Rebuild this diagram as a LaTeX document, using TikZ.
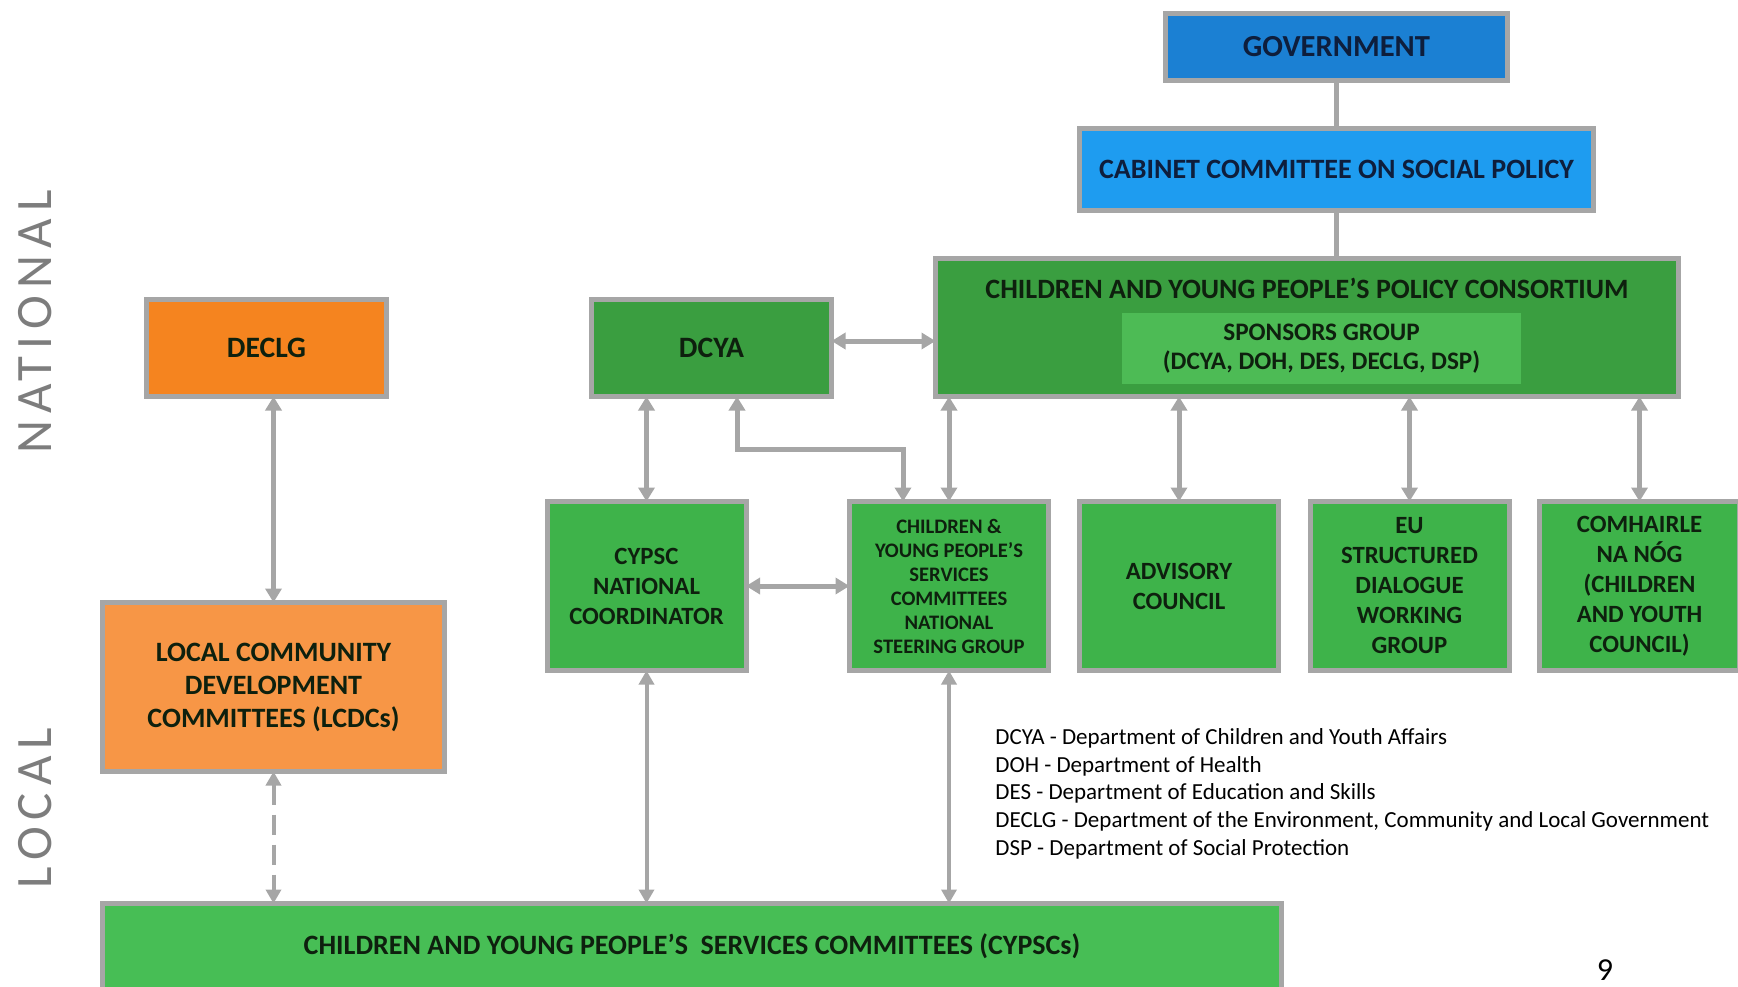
\documentclass[tikz,border=0pt]{standalone}
\usepackage{fontspec}
\setmainfont{Carlito}
\usetikzlibrary{arrows.meta,calc}
\definecolor{govblue}{RGB}{27,128,211}
\definecolor{cabblue}{RGB}{30,156,240}
\definecolor{darkgreen}{RGB}{58,158,64}
\definecolor{midgreen}{RGB}{62,179,74}
\definecolor{lightgreen}{RGB}{77,187,85}
\definecolor{botgreen}{RGB}{71,190,85}
\definecolor{orangeA}{RGB}{245,132,31}
\definecolor{orangeB}{RGB}{247,150,70}
\definecolor{bordergrey}{RGB}{166,166,166}
\definecolor{arrowgrey}{RGB}{166,166,166}
\definecolor{labelgrey}{RGB}{125,125,125}
\definecolor{textdark}{RGB}{14,32,14}
\definecolor{govtext}{RGB}{14,30,60}
\begin{document}
\begin{tikzpicture}[x=0.5pt,y=-0.5pt,
  orgbox/.style={draw=bordergrey, line width=2.5pt, inner sep=0pt, outer sep=0pt, align=center, text=textdark},
  bigfont/.style={font=\bfseries\fontsize{14}{16.5}\selectfont},
  midfont/.style={font=\bfseries\fontsize{12.4}{15}\selectfont},
  smallbox/.style={orgbox, fill=midgreen, minimum width=99.5pt, minimum height=84.5pt, midfont},
  conn/.style={draw=arrowgrey, line width=2.5pt},
  arr/.style={draw=arrowgrey, line width=2.5pt, {Triangle[width=8pt,length=7pt]}-{Triangle[width=8pt,length=7pt]}},
  arrthin/.style={draw=arrowgrey, line width=2pt, {Triangle[width=7.5pt,length=7pt]}-{Triangle[width=7.5pt,length=7pt]}},
  sidelabel/.style={rotate=90, text=labelgrey, font=\fontsize{25.5}{30}\selectfont\addfontfeatures{LetterSpace=14}}
]
\useasboundingbox (0,0) rectangle (1738,986);

% top hierarchy
\node[orgbox, fill=govblue, text=govtext, minimum width=171pt, minimum height=33.5pt,
      font=\bfseries\fontsize{15.3}{18}\selectfont] (gov) at (1336.5,47) {GOVERNMENT};
\node[orgbox, fill=cabblue, text=govtext, minimum width=257pt, minimum height=41pt, bigfont] (cab) at (1336.5,169.5) {CABINET COMMITTEE ON SOCIAL POLICY};
\node[orgbox, fill=darkgreen, minimum width=371.5pt, minimum height=69pt] (cons) at (1307,327.5) {};
\node[text=textdark, bigfont, inner sep=0pt] (constitle) at (1307,288) {CHILDREN AND YOUNG PEOPLE’S POLICY CONSORTIUM};
\node[fill=lightgreen, inner sep=0pt, minimum width=199.5pt, minimum height=35.5pt, align=center, text=textdark,
      font=\bfseries\fontsize{12.6}{14.5}\selectfont] (spons) at (1321.5,348.5) {SPONSORS GROUP\\(DCYA, DOH, DES, DECLG, DSP)};

% national level
\node[orgbox, fill=orangeA, minimum width=120pt, minimum height=48.5pt, font=\bfseries\fontsize{14.8}{17}\selectfont] (declg) at (266.5,348) {DECLG};
\node[orgbox, fill=darkgreen, minimum width=120pt, minimum height=48.5pt, font=\bfseries\fontsize{14.8}{17}\selectfont] (dcya) at (711.5,348) {DCYA};

\node[smallbox] (coord) at (646.5,586) {CYPSC\\NATIONAL\\COORDINATOR};
\node[smallbox, font=\bfseries\fontsize{10.3}{12}\selectfont] (steer) at (949,586) {CHILDREN \&\\YOUNG PEOPLE’S\\SERVICES\\COMMITTEES\\NATIONAL\\STEERING GROUP};
\node[smallbox] (adv) at (1179,586) {ADVISORY\\COUNCIL};
\node[smallbox] (eu) at (1409.5,586) {EU\\STRUCTURED\\DIALOGUE\\WORKING\\GROUP};
\node[smallbox, minimum width=100pt] (com) at (1639.5,586) {COMHAIRLE\\NA NÓG\\(CHILDREN\\AND YOUTH\\COUNCIL)};

% local level
\node[orgbox, fill=orangeB, minimum width=171pt, minimum height=84.5pt, bigfont] (lcdc) at (273.5,687) {LOCAL COMMUNITY\\DEVELOPMENT\\COMMITTEES (LCDCs)};
\node[orgbox, fill=botgreen, minimum width=589.5pt, minimum height=43pt, bigfont] (cypscs) at (692,946.5) {CHILDREN AND YOUNG PEOPLE’S \ SERVICES COMMITTEES (CYPSCs)};

% side labels
\node[sidelabel] (nat) at (35,322) {NATIONAL};
\node[sidelabel] (loc) at (35,808) {LOCAL};

% legend
\node[anchor=west, align=left, inner sep=0pt, text=black, font=\fontsize{11.5}{13.85}\selectfont] (legend) at (995,793.6)
 {DCYA - Department of Children and Youth Affairs\\
  DOH - Department of Health\\
  DES - Department of Education and Skills\\
  DECLG - Department of the Environment, Community and Local Government\\
  DSP - Department of Social Protection};
\node[font=\fontsize{16}{19}\selectfont, text=black, inner sep=0pt] (pg) at (1605,970) {9};

% helper coordinates
\coordinate (hy) at (0,341);
\coordinate (e1) at (737,449);
\coordinate (e2) at (903,449);

% connectors
\draw[conn] (gov.south) -- (cab.north);
\draw[conn] (cab.south) -- (cons.north -| cab.south);
\draw[arr] (dcya.east |- hy) -- (cons.west |- hy);
\draw[arr] (declg.south -| lcdc.north) -- (lcdc.north);
\draw[arr] (dcya.south -| coord.north) -- (coord.north);
\draw[arr] (dcya.south -| e1) -- (e1) -- (e2) -- (steer.north -| e2);
\draw[arr] (cons.south -| steer.north) -- (steer.north);
\draw[arr] (cons.south -| adv.north) -- (adv.north);
\draw[arr] (cons.south -| eu.north) -- (eu.north);
\draw[arr] (cons.south -| com.north) -- (com.north);
\draw[arr] (coord.east) -- (steer.west);
\draw[arrthin] (coord.south) -- (cypscs.north -| coord.south);
\draw[arrthin] (steer.south) -- (cypscs.north -| steer.south);
\draw[arrthin, dash pattern=on 10pt off 5pt] (lcdc.south) -- (cypscs.north -| lcdc.south);
\end{tikzpicture}
\end{document}
